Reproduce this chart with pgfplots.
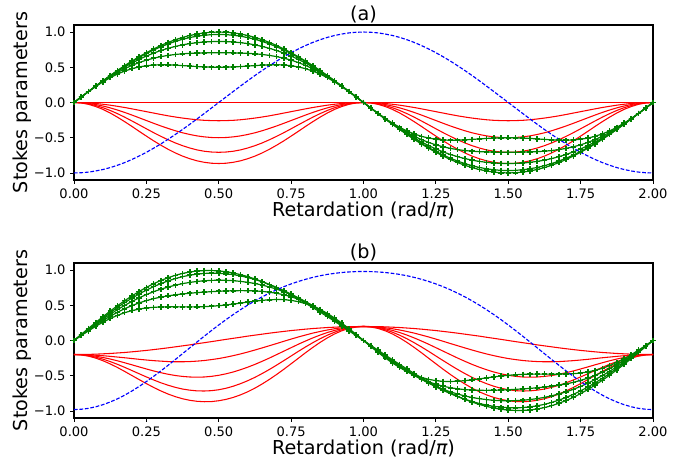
\documentclass[border=0pt]{standalone}
\usepackage{fontspec}
\setmainfont{DejaVu Sans}
\usepackage{pgfplots}
\usepackage{pgfplotstable}
\pgfplotsset{compat=1.18}
\definecolor{mplgreen}{rgb}{0,0.5,0}

\pgfplotstableread{
x b g0 g1 g2 g3 g4 r1 r2 r3 r4
0.000 -1.000 0 0 0 0 0 0 0 0 0
0.025 -0.997 0.078 0.078 0.078 0.078 0.078 -0.002 -0.003 -0.005 -0.006
0.050 -0.988 0.156 0.156 0.156 0.155 0.154 -0.006 -0.013 -0.019 -0.026
0.075 -0.972 0.233 0.233 0.232 0.230 0.227 -0.014 -0.028 -0.043 -0.057
0.100 -0.951 0.309 0.308 0.305 0.300 0.293 -0.025 -0.050 -0.074 -0.098
0.125 -0.924 0.383 0.381 0.375 0.366 0.352 -0.038 -0.076 -0.113 -0.149
0.150 -0.891 0.454 0.451 0.441 0.425 0.404 -0.054 -0.107 -0.158 -0.208
0.175 -0.853 0.523 0.518 0.503 0.479 0.446 -0.071 -0.141 -0.208 -0.272
0.200 -0.809 0.588 0.581 0.560 0.526 0.480 -0.090 -0.178 -0.262 -0.339
0.225 -0.760 0.649 0.640 0.612 0.567 0.505 -0.110 -0.217 -0.317 -0.409
0.250 -0.707 0.707 0.695 0.659 0.601 0.522 -0.130 -0.256 -0.373 -0.477
0.275 -0.649 0.760 0.745 0.701 0.629 0.532 -0.150 -0.295 -0.428 -0.544
0.300 -0.588 0.809 0.791 0.738 0.651 0.536 -0.170 -0.333 -0.480 -0.606
0.325 -0.522 0.853 0.831 0.769 0.669 0.535 -0.189 -0.368 -0.529 -0.664
0.350 -0.454 0.891 0.867 0.796 0.682 0.530 -0.206 -0.401 -0.574 -0.716
0.375 -0.383 0.924 0.897 0.818 0.691 0.524 -0.221 -0.430 -0.613 -0.761
0.400 -0.309 0.951 0.922 0.836 0.698 0.517 -0.234 -0.454 -0.646 -0.798
0.425 -0.233 0.972 0.941 0.849 0.702 0.510 -0.245 -0.474 -0.673 -0.828
0.450 -0.156 0.988 0.955 0.859 0.705 0.505 -0.253 -0.488 -0.692 -0.849
0.475 -0.078 0.997 0.963 0.864 0.707 0.501 -0.257 -0.497 -0.703 -0.862
0.500 0.000 1.000 0.966 0.866 0.707 0.500 -0.259 -0.500 -0.707 -0.866
0.525 0.078 0.997 0.963 0.864 0.707 0.501 -0.257 -0.497 -0.703 -0.862
0.550 0.156 0.988 0.955 0.859 0.705 0.505 -0.253 -0.488 -0.692 -0.849
0.575 0.233 0.972 0.941 0.849 0.702 0.510 -0.245 -0.474 -0.673 -0.828
0.600 0.309 0.951 0.922 0.836 0.698 0.517 -0.234 -0.454 -0.646 -0.798
0.625 0.383 0.924 0.897 0.818 0.691 0.524 -0.221 -0.430 -0.613 -0.761
0.650 0.454 0.891 0.867 0.796 0.682 0.530 -0.206 -0.401 -0.574 -0.716
0.675 0.522 0.853 0.831 0.769 0.669 0.535 -0.189 -0.368 -0.529 -0.664
0.700 0.588 0.809 0.791 0.738 0.651 0.536 -0.170 -0.333 -0.480 -0.606
0.725 0.649 0.760 0.745 0.701 0.629 0.532 -0.150 -0.295 -0.428 -0.544
0.750 0.707 0.707 0.695 0.659 0.601 0.522 -0.130 -0.256 -0.373 -0.477
0.775 0.760 0.649 0.640 0.612 0.567 0.505 -0.110 -0.217 -0.317 -0.409
0.800 0.809 0.588 0.581 0.560 0.526 0.480 -0.090 -0.178 -0.262 -0.339
0.825 0.853 0.523 0.518 0.503 0.479 0.446 -0.071 -0.141 -0.208 -0.272
0.850 0.891 0.454 0.451 0.441 0.425 0.404 -0.054 -0.107 -0.158 -0.208
0.875 0.924 0.383 0.381 0.375 0.366 0.352 -0.038 -0.076 -0.113 -0.149
0.900 0.951 0.309 0.308 0.305 0.300 0.293 -0.025 -0.050 -0.074 -0.098
0.925 0.972 0.233 0.233 0.232 0.230 0.227 -0.014 -0.028 -0.043 -0.057
0.950 0.988 0.156 0.156 0.156 0.155 0.154 -0.006 -0.013 -0.019 -0.026
0.975 0.997 0.078 0.078 0.078 0.078 0.078 -0.002 -0.003 -0.005 -0.006
1.000 1.000 0 0 0 0 0 0 0 0 0
1.025 0.997 -0.078 -0.078 -0.078 -0.078 -0.078 -0.002 -0.003 -0.005 -0.006
1.050 0.988 -0.156 -0.156 -0.156 -0.155 -0.154 -0.006 -0.013 -0.019 -0.026
1.075 0.972 -0.233 -0.233 -0.232 -0.230 -0.227 -0.014 -0.028 -0.043 -0.057
1.100 0.951 -0.309 -0.308 -0.305 -0.300 -0.293 -0.025 -0.050 -0.074 -0.098
1.125 0.924 -0.383 -0.381 -0.375 -0.366 -0.352 -0.038 -0.076 -0.113 -0.149
1.150 0.891 -0.454 -0.451 -0.441 -0.425 -0.404 -0.054 -0.107 -0.158 -0.208
1.175 0.853 -0.523 -0.518 -0.503 -0.479 -0.446 -0.071 -0.141 -0.208 -0.272
1.200 0.809 -0.588 -0.581 -0.560 -0.526 -0.480 -0.090 -0.178 -0.262 -0.339
1.225 0.760 -0.649 -0.640 -0.612 -0.567 -0.505 -0.110 -0.217 -0.317 -0.409
1.250 0.707 -0.707 -0.695 -0.659 -0.601 -0.522 -0.130 -0.256 -0.373 -0.477
1.275 0.649 -0.760 -0.745 -0.701 -0.629 -0.532 -0.150 -0.295 -0.428 -0.544
1.300 0.588 -0.809 -0.791 -0.738 -0.651 -0.536 -0.170 -0.333 -0.480 -0.606
1.325 0.522 -0.853 -0.831 -0.769 -0.669 -0.535 -0.189 -0.368 -0.529 -0.664
1.350 0.454 -0.891 -0.867 -0.796 -0.682 -0.530 -0.206 -0.401 -0.574 -0.716
1.375 0.383 -0.924 -0.897 -0.818 -0.691 -0.524 -0.221 -0.430 -0.613 -0.761
1.400 0.309 -0.951 -0.922 -0.836 -0.698 -0.517 -0.234 -0.454 -0.646 -0.798
1.425 0.233 -0.972 -0.941 -0.849 -0.702 -0.510 -0.245 -0.474 -0.673 -0.828
1.450 0.156 -0.988 -0.955 -0.859 -0.705 -0.505 -0.253 -0.488 -0.692 -0.849
1.475 0.078 -0.997 -0.963 -0.864 -0.707 -0.501 -0.257 -0.497 -0.703 -0.862
1.500 0.000 -1.000 -0.966 -0.866 -0.707 -0.500 -0.259 -0.500 -0.707 -0.866
1.525 -0.078 -0.997 -0.963 -0.864 -0.707 -0.501 -0.257 -0.497 -0.703 -0.862
1.550 -0.156 -0.988 -0.955 -0.859 -0.705 -0.505 -0.253 -0.488 -0.692 -0.849
1.575 -0.233 -0.972 -0.941 -0.849 -0.702 -0.510 -0.245 -0.474 -0.673 -0.828
1.600 -0.309 -0.951 -0.922 -0.836 -0.698 -0.517 -0.234 -0.454 -0.646 -0.798
1.625 -0.383 -0.924 -0.897 -0.818 -0.691 -0.524 -0.221 -0.430 -0.613 -0.761
1.650 -0.454 -0.891 -0.867 -0.796 -0.682 -0.530 -0.206 -0.401 -0.574 -0.716
1.675 -0.522 -0.853 -0.831 -0.769 -0.669 -0.535 -0.189 -0.368 -0.529 -0.664
1.700 -0.588 -0.809 -0.791 -0.738 -0.651 -0.536 -0.170 -0.333 -0.480 -0.606
1.725 -0.649 -0.760 -0.745 -0.701 -0.629 -0.532 -0.150 -0.295 -0.428 -0.544
1.750 -0.707 -0.707 -0.695 -0.659 -0.601 -0.522 -0.130 -0.256 -0.373 -0.477
1.775 -0.760 -0.649 -0.640 -0.612 -0.567 -0.505 -0.110 -0.217 -0.317 -0.409
1.800 -0.809 -0.588 -0.581 -0.560 -0.526 -0.480 -0.090 -0.178 -0.262 -0.339
1.825 -0.853 -0.523 -0.518 -0.503 -0.479 -0.446 -0.071 -0.141 -0.208 -0.272
1.850 -0.891 -0.454 -0.451 -0.441 -0.425 -0.404 -0.054 -0.107 -0.158 -0.208
1.875 -0.924 -0.383 -0.381 -0.375 -0.366 -0.352 -0.038 -0.076 -0.113 -0.149
1.900 -0.951 -0.309 -0.308 -0.305 -0.300 -0.293 -0.025 -0.050 -0.074 -0.098
1.925 -0.972 -0.233 -0.233 -0.232 -0.230 -0.227 -0.014 -0.028 -0.043 -0.057
1.950 -0.988 -0.156 -0.156 -0.156 -0.155 -0.154 -0.006 -0.013 -0.019 -0.026
1.975 -0.997 -0.078 -0.078 -0.078 -0.078 -0.078 -0.002 -0.003 -0.005 -0.006
2.000 -1.000 0 0 0 0 0 0 0 0 0
}\tabA

\pgfplotstableread{
x b g0 g1 g2 g3 g4 r0 r1 r2 r3 r4
0.000 -0.980 0 0 0 0 0 -0.199 -0.199 -0.199 -0.199 -0.199
0.025 -0.976 0.086 0.082 0.078 0.074 0.070 -0.198 -0.200 -0.202 -0.203 -0.205
0.050 -0.963 0.172 0.163 0.155 0.146 0.137 -0.197 -0.203 -0.210 -0.216 -0.222
0.075 -0.941 0.256 0.243 0.230 0.216 0.201 -0.194 -0.209 -0.223 -0.237 -0.250
0.100 -0.911 0.338 0.321 0.303 0.282 0.260 -0.189 -0.216 -0.241 -0.265 -0.287
0.125 -0.873 0.417 0.397 0.372 0.344 0.312 -0.184 -0.225 -0.263 -0.299 -0.332
0.150 -0.828 0.493 0.469 0.438 0.400 0.357 -0.177 -0.235 -0.288 -0.338 -0.383
0.175 -0.776 0.565 0.537 0.498 0.451 0.395 -0.170 -0.245 -0.316 -0.381 -0.439
0.200 -0.717 0.633 0.601 0.555 0.495 0.424 -0.161 -0.256 -0.345 -0.426 -0.497
0.225 -0.652 0.696 0.660 0.606 0.534 0.446 -0.151 -0.267 -0.375 -0.472 -0.555
0.250 -0.583 0.754 0.715 0.652 0.566 0.462 -0.141 -0.277 -0.404 -0.517 -0.612
0.275 -0.509 0.806 0.764 0.693 0.594 0.471 -0.129 -0.286 -0.432 -0.560 -0.666
0.300 -0.432 0.852 0.808 0.728 0.616 0.476 -0.117 -0.293 -0.457 -0.600 -0.716
0.325 -0.352 0.891 0.846 0.759 0.634 0.478 -0.104 -0.299 -0.479 -0.635 -0.760
0.350 -0.270 0.925 0.879 0.785 0.649 0.478 -0.090 -0.302 -0.497 -0.665 -0.797
0.375 -0.187 0.952 0.906 0.807 0.661 0.477 -0.076 -0.302 -0.510 -0.689 -0.827
0.400 -0.104 0.972 0.927 0.825 0.671 0.477 -0.062 -0.299 -0.518 -0.705 -0.849
0.425 -0.021 0.986 0.942 0.838 0.680 0.478 -0.046 -0.293 -0.521 -0.715 -0.863
0.450 0.061 0.993 0.952 0.848 0.687 0.481 -0.031 -0.284 -0.518 -0.717 -0.869
0.475 0.142 0.993 0.956 0.853 0.693 0.486 -0.016 -0.271 -0.509 -0.712 -0.867
0.500 0.220 0.988 0.954 0.855 0.699 0.494 0.000 -0.256 -0.494 -0.699 -0.855
0.525 0.296 0.976 0.947 0.854 0.703 0.504 0.016 -0.237 -0.473 -0.678 -0.836
0.550 0.368 0.959 0.935 0.849 0.706 0.517 0.031 -0.215 -0.447 -0.649 -0.808
0.575 0.437 0.935 0.917 0.839 0.708 0.530 0.046 -0.191 -0.415 -0.613 -0.772
0.600 0.502 0.907 0.894 0.826 0.707 0.545 0.062 -0.164 -0.379 -0.571 -0.728
0.625 0.563 0.874 0.866 0.809 0.704 0.558 0.076 -0.135 -0.339 -0.523 -0.676
0.650 0.620 0.835 0.834 0.787 0.697 0.570 0.090 -0.105 -0.295 -0.469 -0.617
0.675 0.672 0.793 0.796 0.760 0.686 0.578 0.104 -0.074 -0.249 -0.411 -0.552
0.700 0.720 0.747 0.754 0.729 0.670 0.582 0.117 -0.043 -0.200 -0.349 -0.482
0.725 0.764 0.697 0.708 0.692 0.649 0.580 0.129 -0.011 -0.151 -0.285 -0.408
0.750 0.803 0.643 0.658 0.651 0.621 0.570 0.141 0.020 -0.102 -0.220 -0.330
0.775 0.838 0.587 0.604 0.604 0.586 0.551 0.151 0.050 -0.053 -0.154 -0.252
0.800 0.869 0.528 0.546 0.552 0.544 0.524 0.161 0.078 -0.007 -0.091 -0.173
0.825 0.896 0.467 0.486 0.495 0.496 0.487 0.170 0.105 0.037 -0.031 -0.098
0.850 0.919 0.404 0.422 0.434 0.440 0.440 0.177 0.128 0.077 0.025 -0.027
0.875 0.938 0.339 0.356 0.369 0.378 0.384 0.184 0.149 0.113 0.075 0.037
0.900 0.953 0.273 0.287 0.300 0.310 0.319 0.189 0.167 0.143 0.118 0.093
0.925 0.965 0.206 0.217 0.228 0.237 0.246 0.194 0.181 0.167 0.153 0.138
0.950 0.973 0.137 0.145 0.153 0.161 0.168 0.197 0.191 0.185 0.178 0.172
0.975 0.978 0.069 0.073 0.077 0.081 0.085 0.198 0.197 0.195 0.194 0.192
1.000 0.980 0 0 0 0 0 0.199 0.199 0.199 0.199 0.199
1.025 0.978 -0.069 -0.073 -0.077 -0.081 -0.085 0.198 0.197 0.195 0.194 0.192
1.050 0.973 -0.137 -0.145 -0.153 -0.161 -0.168 0.197 0.191 0.185 0.178 0.172
1.075 0.965 -0.206 -0.217 -0.228 -0.237 -0.246 0.194 0.181 0.167 0.153 0.138
1.100 0.953 -0.273 -0.287 -0.300 -0.310 -0.319 0.189 0.167 0.143 0.118 0.093
1.125 0.938 -0.339 -0.356 -0.369 -0.378 -0.384 0.184 0.149 0.113 0.075 0.037
1.150 0.919 -0.404 -0.422 -0.434 -0.440 -0.440 0.177 0.128 0.077 0.025 -0.027
1.175 0.896 -0.467 -0.486 -0.495 -0.496 -0.487 0.170 0.105 0.037 -0.031 -0.098
1.200 0.869 -0.528 -0.546 -0.552 -0.544 -0.524 0.161 0.078 -0.007 -0.091 -0.173
1.225 0.838 -0.587 -0.604 -0.604 -0.586 -0.551 0.151 0.050 -0.053 -0.154 -0.252
1.250 0.803 -0.643 -0.658 -0.651 -0.621 -0.570 0.141 0.020 -0.102 -0.220 -0.330
1.275 0.764 -0.697 -0.708 -0.692 -0.649 -0.580 0.129 -0.011 -0.151 -0.285 -0.408
1.300 0.720 -0.747 -0.754 -0.729 -0.670 -0.582 0.117 -0.043 -0.200 -0.349 -0.482
1.325 0.672 -0.793 -0.796 -0.760 -0.686 -0.578 0.104 -0.074 -0.249 -0.411 -0.552
1.350 0.620 -0.835 -0.834 -0.787 -0.697 -0.570 0.090 -0.105 -0.295 -0.469 -0.617
1.375 0.563 -0.874 -0.866 -0.809 -0.704 -0.558 0.076 -0.135 -0.339 -0.523 -0.676
1.400 0.502 -0.907 -0.894 -0.826 -0.707 -0.545 0.062 -0.164 -0.379 -0.571 -0.728
1.425 0.437 -0.935 -0.917 -0.839 -0.708 -0.530 0.046 -0.191 -0.415 -0.613 -0.772
1.450 0.368 -0.959 -0.935 -0.849 -0.706 -0.517 0.031 -0.215 -0.447 -0.649 -0.808
1.475 0.296 -0.976 -0.947 -0.854 -0.703 -0.504 0.016 -0.237 -0.473 -0.678 -0.836
1.500 0.220 -0.988 -0.954 -0.855 -0.699 -0.494 0.000 -0.256 -0.494 -0.699 -0.855
1.525 0.142 -0.993 -0.956 -0.853 -0.693 -0.486 -0.016 -0.271 -0.509 -0.712 -0.867
1.550 0.061 -0.993 -0.952 -0.848 -0.687 -0.481 -0.031 -0.284 -0.518 -0.717 -0.869
1.575 -0.021 -0.986 -0.942 -0.838 -0.680 -0.478 -0.046 -0.293 -0.521 -0.715 -0.863
1.600 -0.104 -0.972 -0.927 -0.825 -0.671 -0.477 -0.062 -0.299 -0.518 -0.705 -0.849
1.625 -0.187 -0.952 -0.906 -0.807 -0.661 -0.477 -0.076 -0.302 -0.510 -0.689 -0.827
1.650 -0.270 -0.925 -0.879 -0.785 -0.649 -0.478 -0.090 -0.302 -0.497 -0.665 -0.797
1.675 -0.352 -0.891 -0.846 -0.759 -0.634 -0.478 -0.104 -0.299 -0.479 -0.635 -0.760
1.700 -0.432 -0.852 -0.808 -0.728 -0.616 -0.476 -0.117 -0.293 -0.457 -0.600 -0.716
1.725 -0.509 -0.806 -0.764 -0.693 -0.594 -0.471 -0.129 -0.286 -0.432 -0.560 -0.666
1.750 -0.583 -0.754 -0.715 -0.652 -0.566 -0.462 -0.141 -0.277 -0.404 -0.517 -0.612
1.775 -0.652 -0.696 -0.660 -0.606 -0.534 -0.446 -0.151 -0.267 -0.375 -0.472 -0.555
1.800 -0.717 -0.633 -0.601 -0.555 -0.495 -0.424 -0.161 -0.256 -0.345 -0.426 -0.497
1.825 -0.776 -0.565 -0.537 -0.498 -0.451 -0.395 -0.170 -0.245 -0.316 -0.381 -0.439
1.850 -0.828 -0.493 -0.469 -0.438 -0.400 -0.357 -0.177 -0.235 -0.288 -0.338 -0.383
1.875 -0.873 -0.417 -0.397 -0.372 -0.344 -0.312 -0.184 -0.225 -0.263 -0.299 -0.332
1.900 -0.911 -0.338 -0.321 -0.303 -0.282 -0.260 -0.189 -0.216 -0.241 -0.265 -0.287
1.925 -0.941 -0.256 -0.243 -0.230 -0.216 -0.201 -0.194 -0.209 -0.223 -0.237 -0.250
1.950 -0.963 -0.172 -0.163 -0.155 -0.146 -0.137 -0.197 -0.203 -0.210 -0.216 -0.222
1.975 -0.976 -0.086 -0.082 -0.078 -0.074 -0.070 -0.198 -0.200 -0.202 -0.203 -0.205
2.000 -0.980 0 0 0 0 0 -0.199 -0.199 -0.199 -0.199 -0.199
}\tabB

\pgfplotsset{
  stokes/.style={
    anchor=north west, scale only axis,
    width=434.25pt, height=116.25pt,
    xmin=0, xmax=2, ymin=-1.1, ymax=1.1,
    xtick={0,0.25,0.5,0.75,1,1.25,1.5,1.75,2},
    xticklabels={0.00,0.25,0.50,0.75,1.00,1.25,1.50,1.75,2.00},
    ytick={-1,-0.5,0,0.5,1},
    yticklabels={−1.0,−0.5,0.0,0.5,1.0},
    tick align=outside, tick pos=left,
    major tick length=2.8pt,
    tick style={line width=0.6pt, black},
    axis line style={line width=1.3pt},
    tick label style={font=\fontsize{9.8}{11}\selectfont},
    xticklabel style={yshift=-0.5pt},
    xlabel={Retardation (rad/{\itshape π})},
    ylabel={Stokes parameters},
    every axis x label/.style={at={(axis description cs:0.5,-0.194)},anchor=center,font=\fontsize{14.4}{17}\selectfont},
    every axis y label/.style={at={(axis description cs:-0.0899,0.5)},rotate=90,anchor=center,font=\fontsize{14.4}{17}\selectfont},
    every axis title/.style={at={(axis description cs:0.5,1)},anchor=south,inner sep=0pt,yshift=1.2pt,font=\fontsize{14.4}{17}\selectfont},
  },
  redl/.style={color=red, line width=0.8pt, mark=none},
  greenl/.style={color=mplgreen, line width=0.9pt, mark=+, mark size=2pt, mark options={line width=1.2pt, solid}},
  bluel/.style={color=blue, line width=0.85pt, mark=none, dash pattern=on 2.8pt off 1.3pt},
}

\begin{document}
\begin{tikzpicture}
\path[use as bounding box] (-55.5pt,18.75pt) rectangle (464.25pt,-328.5pt);

\begin{axis}[stokes, at={(0pt,0pt)}, title={(a)}]
\addplot[redl] coordinates {(0,0) (2,0)};
\addplot[redl] table[x=x,y=r1] {\tabA};
\addplot[redl] table[x=x,y=r2] {\tabA};
\addplot[redl] table[x=x,y=r3] {\tabA};
\addplot[redl] table[x=x,y=r4] {\tabA};
\addplot[greenl] table[x=x,y=g0] {\tabA};
\addplot[greenl] table[x=x,y=g1] {\tabA};
\addplot[greenl] table[x=x,y=g2] {\tabA};
\addplot[greenl] table[x=x,y=g3] {\tabA};
\addplot[greenl] table[x=x,y=g4] {\tabA};
\addplot[bluel] table[x=x,y=b] {\tabA};
\end{axis}

\begin{axis}[stokes, at={(0pt,-178.5pt)}, title={(b)}]
\addplot[redl] table[x=x,y=r0] {\tabB};
\addplot[redl] table[x=x,y=r1] {\tabB};
\addplot[redl] table[x=x,y=r2] {\tabB};
\addplot[redl] table[x=x,y=r3] {\tabB};
\addplot[redl] table[x=x,y=r4] {\tabB};
\addplot[greenl] table[x=x,y=g0] {\tabB};
\addplot[greenl] table[x=x,y=g1] {\tabB};
\addplot[greenl] table[x=x,y=g2] {\tabB};
\addplot[greenl] table[x=x,y=g3] {\tabB};
\addplot[greenl] table[x=x,y=g4] {\tabB};
\addplot[bluel] table[x=x,y=b] {\tabB};
\end{axis}
\end{tikzpicture}
\end{document}
